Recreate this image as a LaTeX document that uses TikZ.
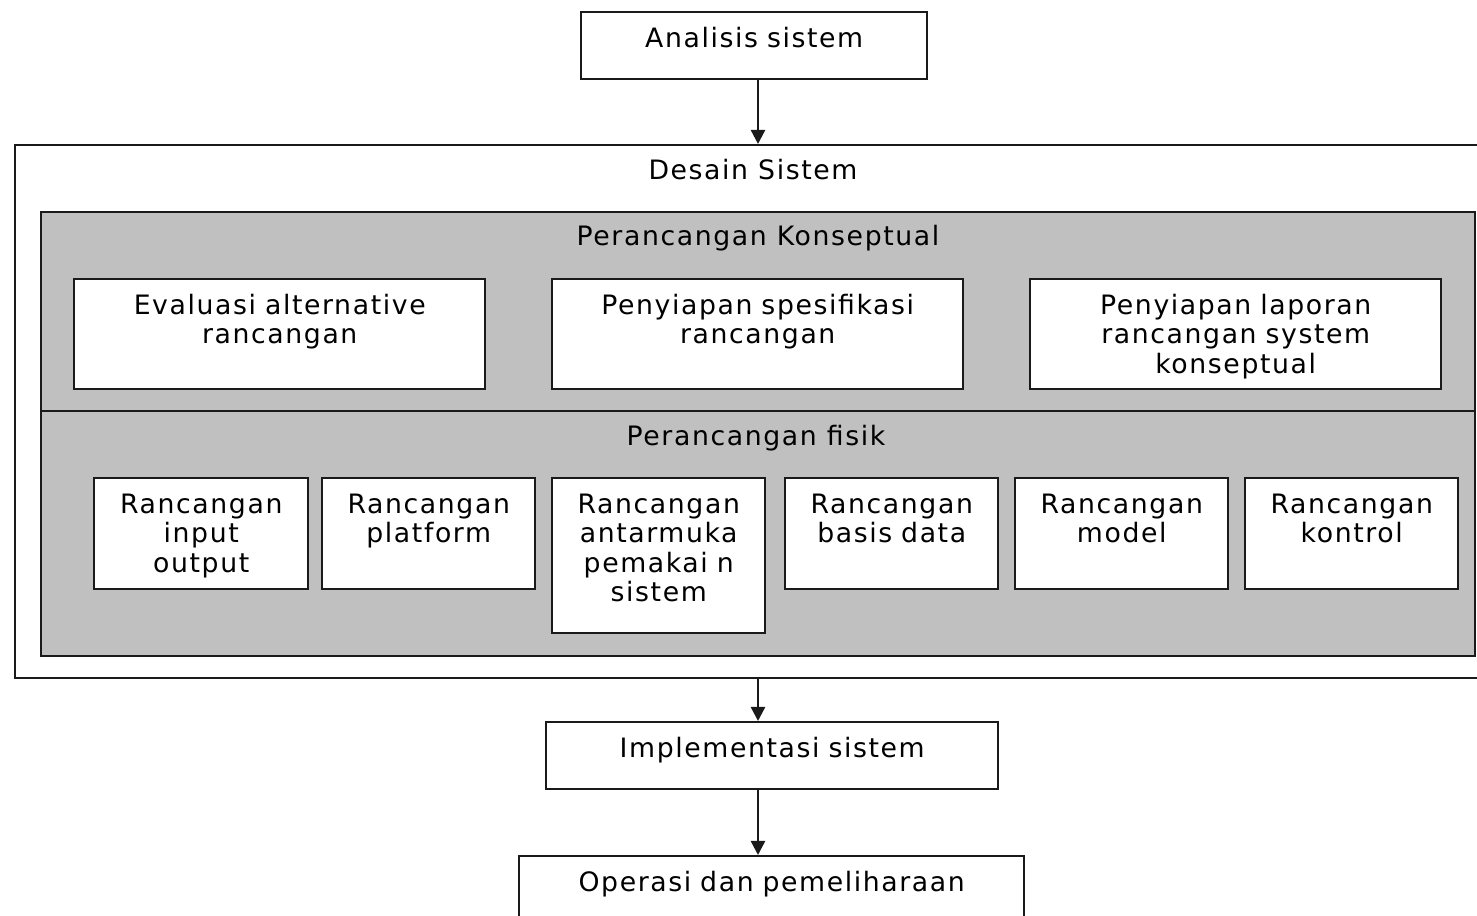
\documentclass[tikz,border=0pt]{standalone}
\usepackage{fontspec}
\setmainfont{DejaVu Sans}[LetterSpace=6]
\usetikzlibrary{arrows.meta, positioning}
\definecolor{cpanel}{HTML}{C0C0C0}
\definecolor{cline}{HTML}{1A1A1A}
\tikzset{
  every picture/.style={line width=0.7pt},
  every node/.style={font=\fontsize{7.6}{8.4}\selectfont},
  box/.style 2 args={draw=cline, fill=white, align=center, inner sep=0pt, anchor=north west, text width=#1, text height=0.35cm, text depth=#2},
  frame/.style={draw=cline, fill=#1, anchor=north west, inner sep=0pt},
  frame/.default=white,
  title/.style={anchor=base},
  arrow/.style={-{Triangle[length=0.14cm, width=0.14cm]}, draw=cline},
}

\begin{document}
\begin{tikzpicture}
  \path[use as bounding box, clip] (0,0) rectangle (14.77,-9.16);
  \coordinate (axis) at (7.58,0);
  % top
  \node[box={3.46cm}{0.32cm}] (analisis) at (5.80,-0.11) {Analisis sistem};
  % desain sistem
  \node[frame, minimum width=14.90cm, minimum height=5.33cm] (desain) at (0.14,-1.44) {};
  \node[title] (desaint) at (7.53,-1.80) {Desain Sistem};
  \node[frame=cpanel, minimum width=14.34cm, minimum height=1.99cm] (konsep) at (0.40,-2.11) {};
  \node[title] (konsept) at (7.58,-2.46) {Perancangan Konseptual};
  \node[frame=cpanel, minimum width=14.34cm, minimum height=2.45cm] (fisik) at (0.40,-4.10) {};
  \node[title] (fisikt) at (7.56,-4.46) {Perancangan fisik};
  % konseptual
  \node[box={4.11cm}{0.75cm}] (evaluasi) at (0.73,-2.78) {Evaluasi alternative\\rancangan};
  \node[box={4.11cm}{0.75cm}] (spesifikasi) at (5.51,-2.78) {Penyiapan spesifikasi\\rancangan};
  \node[box={4.11cm}{0.75cm}] (laporan) at (10.29,-2.78) {Penyiapan laporan\\rancangan system\\konseptual};
  % fisik
  \node[box={2.14cm}{0.76cm}] (input) at (0.93,-4.77) {Rancangan\\input\\output};
  \node[box={2.13cm}{0.76cm}] (platform) at (3.21,-4.77) {Rancangan\\platform};
  \node[box={2.13cm}{1.20cm}] (antarmuka) at (5.51,-4.77) {Rancangan\\antarmuka\\pemakai n\\sistem};
  \node[box={2.13cm}{0.76cm}] (basis) at (7.84,-4.77) {Rancangan\\basis data};
  \node[box={2.13cm}{0.76cm}] (model) at (10.14,-4.77) {Rancangan\\model};
  \node[box={2.13cm}{0.76cm}] (kontrol) at (12.44,-4.77) {Rancangan\\kontrol};
  % bottom
  \node[box={4.52cm}{0.32cm}] (implementasi) at (5.45,-7.21) {Implementasi sistem};
  \node[box={5.05cm}{0.40cm}] (operasi) at (5.18,-8.55) {Operasi dan pemeliharaan};
  % arrows
  \draw[arrow] (analisis.south -| axis) -- (desain.north -| axis);
  \draw[arrow] (desain.south -| axis) -- (implementasi.north -| axis);
  \draw[arrow] (implementasi.south -| axis) -- (operasi.north -| axis);
\end{tikzpicture}
\end{document}
